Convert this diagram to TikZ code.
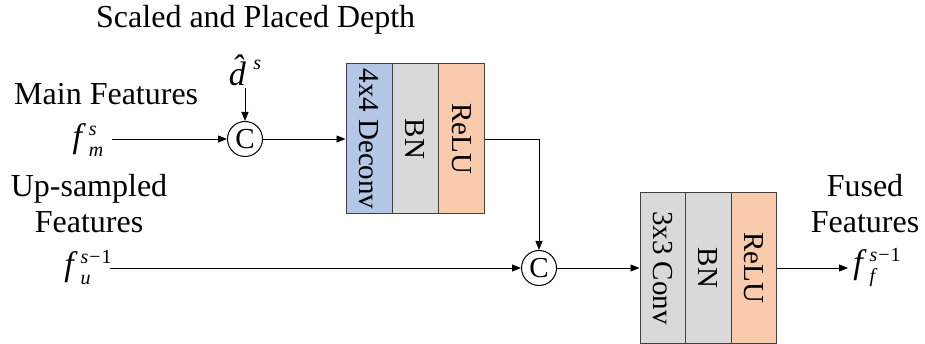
\documentclass[tikz,border=0pt]{standalone}
\usepackage{fontspec}
\setmainfont{Liberation Serif}
\usetikzlibrary{arrows.meta}
\definecolor{cblue}{HTML}{B4C7E7}
\definecolor{cgray}{HTML}{D9D9D9}
\definecolor{corange}{HTML}{F8CBAD}
\newcommand{\supsb}[2]{\begingroup\fontsize{20}{20}\selectfont\setbox0\hbox{#1}\setbox2\hbox{#2}\raise0.6em\copy0\kern-\wd0\lower0.45em\copy2\ifdim\wd0>\wd2\kern\dimexpr\wd0-\wd2\relax\fi\endgroup}
\tikzset{
  lbl/.style={font=\fontsize{32}{36}\selectfont, inner sep=0pt},
  mvar/.style={font=\fontsize{34}{38}\selectfont, inner sep=0pt},
  layer/.style={draw=black!75, line width=1pt, rotate=-90, minimum width=150pt, minimum height=46pt, inner sep=0pt, font=\fontsize{29}{32}\selectfont},
  cat/.style={draw, circle, line width=1pt, minimum size=35pt, inner sep=0pt, font=\fontsize{29}{29}\selectfont},
  conn/.style={line width=0.9pt, -{Triangle[length=9pt,width=7pt]}}
}
\begin{document}
\begin{tikzpicture}[x=1pt,y=-1pt]
\useasboundingbox (0,0) rectangle (925,344);
% labels
\node[lbl, anchor=base west] (title) at (96,28) {Scaled and Placed Depth};
\node[lbl, anchor=base west] (main) at (14,105) {Main Features};
\node[lbl, anchor=base] (up) at (89,197) {Up-sampled};
\node[lbl, anchor=base] (featl) at (89,233) {Features};
\node[lbl, anchor=base] (fused) at (865,197) {Fused};
\node[lbl, anchor=base] (featr) at (865,233) {Features};
% variables
\node[mvar] (fm) at (88,140) {\textit{f}\kern3pt\supsb{\textit{s}}{\textit{m}}};
\node[mvar] (dh) at (245,70) {\textit{\^{d}}\kern-5pt\raisebox{0.45em}{\fontsize{20}{20}\selectfont\textit{s}}};
\node[mvar] (fu) at (88,268) {\textit{f}\kern3pt\supsb{\textit{s}\kern1pt\char"2212\kern1pt1}{\textit{u}}};
\node[mvar] (ff) at (877,268) {\textit{f}\kern3pt\supsb{\textit{s}\kern1pt\char"2212\kern1pt1}{\textit{f}}};
% concat
\node[cat] (c1) at (245,139) {C};
\node[cat] (c2) at (539,268) {C};
% block 1
\node[layer, fill=cblue] (dc) at (369,139) {4x4 Deconv};
\node[layer, fill=cgray] (bn1) at (415,139) {BN};
\node[layer, fill=corange] (re1) at (461.5,139) {ReLU};
% block 2
\node[layer, fill=cgray, minimum height=45pt] (cv) at (662.5,268) {3x3 Conv};
\node[layer, fill=cgray] (bn2) at (708,268) {BN};
\node[layer, fill=corange, minimum height=45pt] (re2) at (753.5,268) {ReLU};
% coordinates
\coordinate (fmo) at (112,139);
\coordinate (dho) at (245,88);
\coordinate (fuo) at (110,268);
\coordinate (ffi) at (848,268);
% connectors
\draw[conn] (fmo) -- (c1.west);
\draw[conn] (dho) -- (c1.north);
\draw[conn] (c1.east) -- (dc.south);
\draw[conn] (re1.north) -| (c2.north);
\draw[conn] (fuo) -- (c2.west);
\draw[conn] (c2.east) -- (cv.south);
\draw[conn] (re2.north) -- (ffi);
\end{tikzpicture}
\end{document}
